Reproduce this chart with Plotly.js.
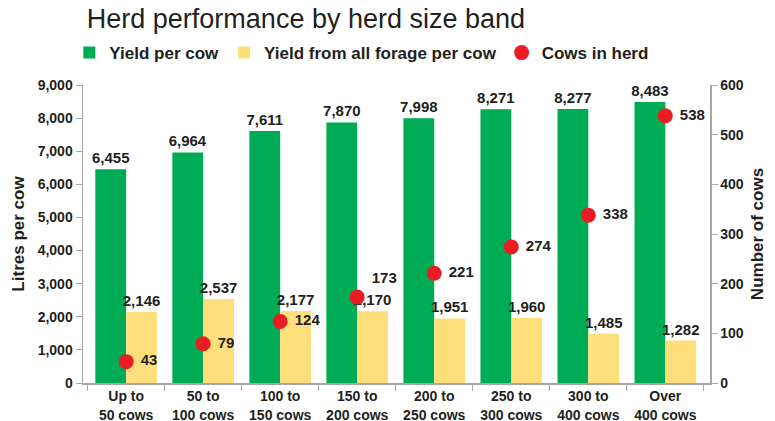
<!DOCTYPE html>
<html>
<head>
<meta charset="utf-8">
<script src="https://cdn.plot.ly/plotly-3.0.1.min.js"></script>
<style>
  html, body { margin: 0; padding: 0; background: #ffffff; }
  #chart { width: 775px; height: 421px; }
</style>
</head>
<body>
<div id="chart"></div>
<script>
// Herd size bands (x categories)
const bands = [
  "Up to<br>50 cows", "50 to<br>100 cows", "100 to<br>150 cows", "150 to<br>200 cows",
  "200 to<br>250 cows", "250 to<br>300 cows", "300 to<br>400 cows", "Over<br>400 cows"
];
// Litres per cow
const yieldPerCow = [6455, 6964, 7611, 7870, 7998, 8271, 8277, 8483];
const yieldFromForage = [2146, 2537, 2177, 2170, 1951, 1960, 1485, 1282];
// Average herd size (right axis)
const cowsInHerd = [43, 79, 124, 173, 221, 274, 338, 538];

const textColor = "#231f20";
const labelFont = { family: "Liberation Sans, Arial, sans-serif", size: 15, color: textColor, weight: 600 };

// Herd-size labels sit beside each dot; the 150-200 one is lifted clear of the forage label below it
const cowLabelPos = cowsInHerd.map((v, i) => (i === 3 ? "top right" : "middle right"));

const traces = [
  {
    type: "bar", name: "Yield per cow", x: bands, y: yieldPerCow,
    marker: { color: "#00ab55" },
    texttemplate: "%{y:,}", textposition: "outside", constraintext: "none",
    textfont: labelFont, cliponaxis: false, hoverinfo: "skip"
  },
  {
    type: "bar", name: "Yield from all forage per cow", x: bands, y: yieldFromForage,
    marker: { color: "#ffdf7b" },
    texttemplate: "%{y:,}", textposition: "outside", constraintext: "none",
    textfont: labelFont, cliponaxis: false, hoverinfo: "skip"
  },
  {
    type: "scatter", mode: "markers+text", name: "Cows in herd", x: bands, y: cowsInHerd,
    yaxis: "y2",
    marker: { color: "#ec1c24", size: 15 },
    text: cowsInHerd.map(v => " " + v), textposition: cowLabelPos,
    textfont: labelFont, cliponaxis: false, hoverinfo: "skip"
  }
];

const axisLine = "#a6a6a6";
const tickFont = { family: "Liberation Sans, Arial, sans-serif", size: 14, color: textColor, weight: 600 };

const layout = {
  width: 775, height: 421,
  margin: { l: 83, r: 65, t: 85, b: 38, autoexpand: false },
  paper_bgcolor: "#ffffff", plot_bgcolor: "#ffffff",
  font: { family: "Liberation Sans, Arial, sans-serif", color: textColor },
  title: {
    text: "Herd performance by herd size band",
    x: 0.112, xref: "container", xanchor: "left",
    y: 0.955, yref: "container", yanchor: "middle",
    font: { family: "Liberation Sans Narrow, Liberation Sans, sans-serif", size: 27, color: "#231f20", weight: 300 }
  },
  showlegend: true,
  legend: {
    orientation: "h", xref: "container", x: 0.0895, xanchor: "left",
    yref: "container", y: 0.874, yanchor: "middle",
    font: { family: "Liberation Sans Narrow, Liberation Sans, sans-serif", size: 17, color: textColor, weight: 700 },
    itemwidth: 30, tracegroupgap: 0, traceorder: "normal"
  },
  barmode: "group", bargap: 0.2, bargroupgap: 0,
  xaxis: {
    type: "category", range: [-0.56, 7.58],
    showline: true, linecolor: axisLine, linewidth: 1.5,
    ticks: "outside", tickson: "boundaries", ticklen: 6, tickcolor: axisLine,
    tickfont: tickFont, showgrid: false, zeroline: false, fixedrange: true
  },
  yaxis: {
    range: [0, 9000], dtick: 1000, tickformat: ",",
    showline: true, linecolor: axisLine, linewidth: 1.5,
    ticks: "outside", ticklen: 6, tickcolor: axisLine,
    tickfont: tickFont, showgrid: false, zeroline: false,
    title: { text: "Litres per cow", standoff: 8, font: { size: 17, color: textColor, weight: 600 } }
  },
  yaxis2: {
    overlaying: "y", side: "right", range: [0, 600], dtick: 100,
    showline: true, linecolor: axisLine, linewidth: 1.5,
    ticks: "outside", ticklen: 6, tickcolor: axisLine,
    tickfont: tickFont, showgrid: false, zeroline: false,
    title: { text: "Number of cows", standoff: 8, font: { size: 17, color: textColor, weight: 600 } }
  }
};

Plotly.newPlot("chart", traces, layout, { displayModeBar: false, staticPlot: true });
</script>
</body>
</html>
